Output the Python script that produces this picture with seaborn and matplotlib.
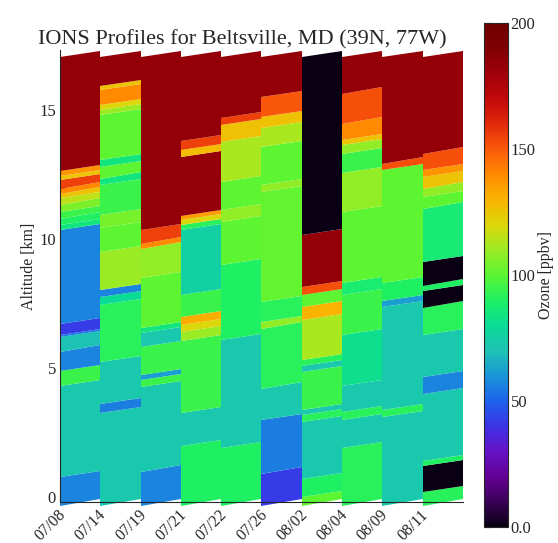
import numpy as np
import matplotlib
matplotlib.use("Agg")
import matplotlib.pyplot as plt
import matplotlib.transforms as mtransforms
import seaborn as sns

# launch dates (one column per sonde)
dates = ['07/08', '07/14', '07/19', '07/21', '07/22',
         '07/26', '08/02', '08/04', '08/09', '08/11']

# layer edges (km, at the left side of each column) and ozone (ppbv) per layer
alt_0708 = [-0.32, 0.8, 4.3, 4.9, 5.65, 6.2, 6.3, 6.7, 10.35, 10.55, 10.8, 11.06,
            11.34, 11.58, 11.77, 11.96, 12.29, 12.45, 12.64, 17.05]
o3_0708 = [57, 72, 95, 57, 70, 55, 42, 57, 85, 90, 95, 105, 115, 125, 140, 155, 125, 138, 183]

alt_0714 = [-0.32, 3.25, 3.6, 5.25, 7.45, 7.75, 8.02, 9.5, 10.43, 10.93, 12.1, 12.35,
            12.8, 13.06, 14.8, 15.0, 15.19, 15.77, 15.94, 17.05]
o3_0714 = [72, 55, 72, 92, 80, 57, 110, 100, 104, 95, 85, 100, 85, 100, 110, 120, 140, 125, 183]

alt_0719 = [-0.32, 1.0, 4.28, 4.53, 4.73, 5.83, 6.35, 6.55, 8.5, 9.64, 9.83, 10.35, 17.05]
o3_0719 = [57, 72, 95, 62, 95, 72, 85, 100, 108, 140, 155, 183]

alt_0721 = [-0.32, 2.0, 3.27, 6.05, 6.4, 6.67, 6.99, 7.83, 10.35, 10.55, 10.74, 10.9,
            13.19, 13.45, 13.8, 17.05]
o3_0721 = [90, 72, 95, 110, 120, 132, 95, 75, 92, 120, 135, 183, 128, 155, 183]

alt_0722 = [-0.32, 1.92, 6.1, 9.0, 10.67, 11.12, 12.22, 13.77, 14.42, 14.7, 17.05]
o3_0722 = [90, 72, 90, 100, 108, 100, 112, 126, 155, 183]

alt_0726 = [-0.32, 0.92, 3.0, 4.21, 6.54, 6.8, 7.57, 11.83, 12.09, 13.58, 14.29,
            14.74, 15.5, 17.05]
o3_0726 = [42, 55, 72, 92, 108, 92, 101, 108, 100, 112, 126, 150, 183]

alt_0802 = [-0.32, 0.0, 0.72, 2.92, 3.18, 3.37, 4.86, 5.1, 5.31, 6.86, 7.38, 7.83,
            8.15, 10.16, 17.05]
o3_0802 = [100, 90, 72, 92, 72, 95, 72, 92, 112, 130, 100, 152, 183, 0]

alt_0804 = [-0.32, 1.92, 2.98, 3.3, 4.3, 6.28, 7.83, 8.3, 11.06, 12.55, 13.3, 13.64,
            13.84, 14.48, 15.64, 17.05]
o3_0804 = [92, 72, 92, 72, 82, 95, 88, 100, 108, 95, 108, 125, 140, 152, 183]

alt_0809 = [-0.32, 3.11, 3.37, 7.38, 7.6, 8.3, 12.67, 12.93, 17.05]
o3_0809 = [72, 92, 72, 62, 90, 100, 152, 183]

alt_0811 = [-0.32, 0.2, 1.2, 1.4, 4.0, 4.66, 6.3, 7.35, 7.98, 8.2, 9.12, 11.19,
            11.64, 11.96, 12.41, 12.67, 13.32, 17.05]
o3_0811 = [92, 0, 90, 72, 57, 72, 92, 0, 90, 0, 87, 100, 108, 125, 138, 152, 183]

profiles = [(alt_0708, o3_0708), (alt_0714, o3_0714), (alt_0719, o3_0719),
            (alt_0721, o3_0721), (alt_0722, o3_0722), (alt_0726, o3_0726),
            (alt_0802, o3_0802), (alt_0804, o3_0804), (alt_0809, o3_0809),
            (alt_0811, o3_0811)]

# IDL-like rainbow, one colour every 10 ppbv from 0 to 200
rainbow = ['#0a0014', '#3c005a', '#640096', '#6414c8', '#3c32e6', '#1e64eb',
           '#1996d7', '#1ec3b4', '#0adc96', '#1ef064', '#5af532', '#9beb23',
           '#dcd70a', '#fab400', '#ff8c00', '#fa5a0a', '#e1280a', '#c30a0a',
           '#a0000a', '#820005', '#6e0000']

sns.set_style("ticks")
plt.rcParams['font.family'] = ['Liberation Serif', 'DejaVu Serif']
cmap = sns.blend_palette(rainbow, n_colors=256, as_cmap=True)

fig = plt.figure(figsize=(5.58, 5.43), dpi=100)
ax = fig.add_axes([0.1075, 0.0755, 0.7222, 0.8324])

slope = 0.24  # layers rise a bit across each column
for i, (alt, o3) in enumerate(profiles):
    alt = np.array(alt)
    xx = np.tile([i, i + 1], (len(alt), 1))
    yy = alt[:, None] + np.array([0, slope])[None, :]
    mesh = ax.pcolormesh(xx, yy, np.array(o3, dtype=float)[:, None], cmap=cmap,
                         vmin=0, vmax=200, shading='flat', clip_on=False,
                         edgecolors='none', antialiased=True)

ax.set_xlim(0, 10)
ax.set_ylim(-0.18, 17.33)
sns.despine(ax=ax, top=True, right=True)
ax.set_yticks([0, 5, 10, 15])
ax.set_yticks(np.arange(0, 17, 1), minor=True)
ax.set_xticks(np.arange(len(dates)))
ax.set_xticklabels(dates, rotation=45, ha='right', fontsize=11.5)
ax.tick_params(axis='y', which='major', direction='in', length=8, labelsize=12, pad=3)
ax.tick_params(axis='y', which='minor', direction='in', length=4)
ax.tick_params(axis='x', direction='in', length=4, pad=2)

# nudge the date labels so their ends sit just right of each column start
shift = mtransforms.ScaledTranslation(0.09, -0.02, fig.dpi_scale_trans)
for lab in ax.get_xticklabels():
    lab.set_transform(lab.get_transform() + shift)

fig.text(0.434, 0.926, 'IONS Profiles for Beltsville, MD (39N, 77W)',
         ha='center', va='center', fontsize=16)
fig.text(0.052, 0.51, 'Altitude [km]', rotation=90, ha='center', va='center', fontsize=11.5)

cax = fig.add_axes([0.867, 0.0295, 0.043, 0.928])
cb = fig.colorbar(mesh, cax=cax, ticks=[0, 50, 100, 150, 200])
cb.set_ticklabels(['0.0', '50', '100', '150', '200'])
cb.outline.set_linewidth(0.8)
cax.tick_params(direction='in', left=True, right=True, length=5, labelsize=12, pad=2)
cb.set_label('Ozone [ppbv]', fontsize=11.5, labelpad=2)

fig.savefig('out.png', dpi=100)
